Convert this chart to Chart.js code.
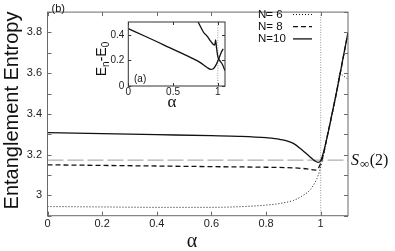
<!DOCTYPE html>
<html>
<head>
<meta charset="utf-8">
<script src="https://cdn.jsdelivr.net/npm/chart.js@4/dist/chart.umd.min.js"></script>
<style>
    html, body { margin: 0; padding: 0; background: #fff; }
    #wrap { position: relative; width: 395px; height: 251px; }
    #main { position: absolute; left: 0; top: 0; }
    #inset { position: absolute; left: 95px; top: 12px; }
</style>
</head>
<body>
<div id="wrap">
    <canvas id="main" width="395" height="251"></canvas>
    <canvas id="inset" width="135" height="100"></canvas>
</div>
<script>
// main panel (b): entanglement entropy vs alpha
var alpha10 = [0, 0.2, 0.4, 0.6, 0.7, 0.8, 0.85, 0.9, 0.93, 0.96, 0.98, 0.99, 1.0, 1.01, 1.02, 1.04, 1.06, 1.08, 1.1];
var entropy10 = [3.308, 3.303, 3.298, 3.293, 3.29, 3.283, 3.275, 3.255, 3.225, 3.19, 3.168, 3.162, 3.17, 3.21, 3.265, 3.39, 3.52, 3.66, 3.8];

var alpha8 = [0, 0.2, 0.4, 0.6, 0.8, 0.9, 0.95, 0.98, 0.99, 1.0, 1.01, 1.02, 1.04, 1.06, 1.08, 1.1];
var entropy8 = [3.15, 3.147, 3.144, 3.141, 3.138, 3.135, 3.13, 3.124, 3.13, 3.158, 3.2, 3.265, 3.39, 3.52, 3.66, 3.8];

var alpha6 = [0, 0.2, 0.4, 0.6, 0.7, 0.8, 0.85, 0.9, 0.93, 0.96, 0.98, 0.99, 1.0, 1.01, 1.02, 1.04, 1.06, 1.07, 1.08, 1.1];
var entropy6 = [2.945, 2.943, 2.941, 2.941, 2.944, 2.952, 2.96, 2.975, 2.995, 3.025, 3.065, 3.095, 3.14, 3.195, 3.26, 3.385, 3.515, 3.6, 3.59, 3.57];

var sInfinity = 3.173;
var alphaCritical = 1;

var xTicks = [0, 0.2, 0.4, 0.6, 0.8, 1];
var xTickLabels = ['0', '0.2', '0.4', '0.6', '0.8', '1'];
var yTicks = [2.9, 3.0, 3.1, 3.2, 3.3, 3.4, 3.5, 3.6, 3.7, 3.8, 3.9];
var yTickLabels = ['', '3', '', '3.2', '', '3.4', '', '3.6', '', '3.8', ''];

// inset (a): energy gaps vs alpha
var gapAlphaLow = [0, 0.2, 0.4, 0.6, 0.8, 0.88, 0.92, 0.95, 0.98, 1.0, 1.02, 1.04, 1.06];
var gapLow = [0.448, 0.385, 0.32, 0.255, 0.185, 0.145, 0.13, 0.135, 0.165, 0.195, 0.23, 0.265, 0.29];
var gapAlphaHigh = [0.78, 0.84, 0.88, 0.92, 0.95, 0.965, 0.975, 0.985, 1.0, 1.02, 1.05, 1.08];
var gapHigh = [0.5, 0.42, 0.39, 0.35, 0.325, 0.32, 0.36, 0.3, 0.23, 0.2, 0.17, 0.12];

var insetXTicks = [0, 0.5, 1];
var insetXTickLabels = ['0', '0.5', '1'];
var insetYTicks = [0, 0.2, 0.4];
var insetYTickLabels = ['0', '0.2', '0.4'];

var legendLabels = ['N= 6', 'N= 8', 'N=10'];

var SANS = '"Liberation Sans", Arial, sans-serif';
var SERIF = '"Liberation Serif", "DejaVu Serif", serif';

function points(xs, ys) {
    return xs.map(function(x, i){ return {x: x, y: ys[i]}; });
}

function fixTicks(list) {
    return function(scale){
        scale.ticks = list.map(function(v){ return {value: v}; });
    };
}

// frame with inward ticks, gnuplot style
var frameTicks = {
    id: 'frameTicks',
    afterDatasetsDraw: function(chart, args, opts){
        var ctx = chart.ctx;
        var a = chart.chartArea;
        var xs = chart.scales.x, ys = chart.scales.y;
        ctx.save();
        ctx.strokeStyle = opts.color;
        ctx.lineWidth = 1;
        ctx.strokeRect(a.left, a.top, a.right - a.left, a.bottom - a.top);
        ctx.beginPath();
        xs.ticks.forEach(function(t){
            var p = Math.round(xs.getPixelForValue(t.value)) + 0.5;
            ctx.moveTo(p, a.bottom); ctx.lineTo(p, a.bottom - opts.len);
            ctx.moveTo(p, a.top); ctx.lineTo(p, a.top + opts.len);
        });
        ys.ticks.forEach(function(t){
            var p = Math.round(ys.getPixelForValue(t.value)) + 0.5;
            ctx.moveTo(a.left, p); ctx.lineTo(a.left + opts.len, p);
            ctx.moveTo(a.right, p); ctx.lineTo(a.right - opts.len, p);
        });
        ctx.stroke();
        ctx.restore();
    }
};

var mainText = {
    id: 'mainText',
    afterDraw: function(chart){
        var ctx = chart.ctx;
        var a = chart.chartArea;
        ctx.save();
        ctx.fillStyle = '#111';

        // y title
        ctx.save();
        ctx.translate(18, 110.5);
        ctx.rotate(-Math.PI / 2);
        ctx.font = '20px ' + SANS;
        ctx.textAlign = 'center';
        ctx.textBaseline = 'alphabetic';
        ctx.fillText('Entanglement Entropy', 0, 0);
        ctx.restore();

        // x title
        ctx.font = '20px ' + SERIF;
        ctx.textAlign = 'center';
        ctx.textBaseline = 'alphabetic';
        ctx.fillText('\u03b1', 192, 246.5);

        // panel tag
        ctx.font = '11px ' + SANS;
        ctx.textAlign = 'left';
        ctx.textBaseline = 'middle';
        ctx.fillText('(b)', 51.5, 8.5);

        // legend
        var styles = [[1, 2], [5, 3], []];
        ctx.font = '11.5px ' + SANS;
        legendLabels.forEach(function(lab, i){
            var y = 14.5 + i * 12.2;
            ctx.fillText(lab, 258, y);
            ctx.beginPath();
            ctx.setLineDash(styles[i]);
            ctx.lineWidth = i === 0 ? 1 : 1.3;
            ctx.strokeStyle = '#111';
            ctx.moveTo(293, y);
            ctx.lineTo(312, y);
            ctx.stroke();
        });
        ctx.setLineDash([]);

        // S_inf(2) label
        var ly = chart.scales.y.getPixelForValue(sInfinity) + 5;
        var x = a.right + 3;
        ctx.textBaseline = 'alphabetic';
        ctx.font = 'italic 16px ' + SERIF;
        ctx.fillText('S', x, ly);
        x += ctx.measureText('S').width + 1;
        ctx.font = '13px ' + SERIF;
        ctx.fillText('\u221e', x, ly + 2.5);
        x += ctx.measureText('\u221e').width + 0.5;
        ctx.font = '16px ' + SERIF;
        ctx.fillText('(2)', x, ly);
        ctx.restore();
    }
};

var insetText = {
    id: 'insetText',
    afterDraw: function(chart){
        var ctx = chart.ctx;
        ctx.save();
        ctx.fillStyle = '#111';
        ctx.textBaseline = 'alphabetic';

        // y title E_n - E_0, rotated
        ctx.save();
        ctx.translate(106 - 95, 59 - 12);
        ctx.rotate(-Math.PI / 2);
        var parts = [['E', 14, 0], ['n', 10, 3], ['-E', 14, 0], ['0', 10, 3]];
        var total = 0;
        parts.forEach(function(p){ ctx.font = p[1] + 'px ' + SANS; total += ctx.measureText(p[0]).width; });
        var x = -total / 2;
        parts.forEach(function(p){
            ctx.font = p[1] + 'px ' + SANS;
            ctx.textAlign = 'left';
            ctx.fillText(p[0], x, p[2]);
            x += ctx.measureText(p[0]).width;
        });
        ctx.restore();

        // x title
        ctx.font = '17px ' + SERIF;
        ctx.textAlign = 'center';
        ctx.fillText('\u03b1', 172 - 95, 107 - 12);

        // panel tag
        ctx.font = '10px ' + SANS;
        ctx.textAlign = 'left';
        ctx.textBaseline = 'middle';
        ctx.fillText('(a)', 134 - 95, 79 - 12);
        ctx.restore();
    }
};

new Chart(document.getElementById('main'), {
    type: 'line',
    data: {
        datasets: [{
            label: 'N=6',
            data: points(alpha6, entropy6),
            borderColor: '#111',
            borderWidth: 1,
            borderDash: [1, 2]
        }, {
            label: 'N=8',
            data: points(alpha8, entropy8),
            borderColor: '#111',
            borderWidth: 1.3,
            borderDash: [5, 3]
        }, {
            label: 'N=10',
            data: points(alpha10, entropy10),
            borderColor: '#111',
            borderWidth: 1.3
        }, {
            label: 'S_inf(2)',
            data: [{x: 0, y: sInfinity}, {x: 1.1, y: sInfinity}],
            borderColor: '#9a9a9a',
            borderWidth: 1,
            borderDash: [16, 4],
            tension: 0
        }, {
            label: 'alpha=1',
            data: [{x: alphaCritical, y: 2.9}, {x: alphaCritical, y: 3.9}],
            borderColor: '#999',
            borderWidth: 1,
            borderDash: [1, 1.5],
            tension: 0
        }]
    },
    options: {
        responsive: false,
        animation: false,
        devicePixelRatio: 1,
        layout: { padding: { top: 1, right: 47, left: 0, bottom: 0 } },
        elements: {
            point: { radius: 0 },
            line: { cubicInterpolationMode: 'monotone', fill: false }
        },
        plugins: {
            legend: { display: false },
            tooltip: { enabled: false },
            frameTicks: { color: '#6a6a6a', len: 4 }
        },
        scales: {
            x: {
                type: 'linear',
                min: 0,
                max: 1.1,
                afterBuildTicks: fixTicks(xTicks),
                afterFit: function(s){ s.height = 35.3; },
                grid: { display: false, drawTicks: false },
                border: { display: false },
                ticks: {
                    autoSkip: false,
                    maxRotation: 0,
                    padding: 2,
                    color: '#222',
                    font: { family: SANS, size: 11 },
                    callback: function(v, i){ return xTickLabels[i]; }
                }
            },
            y: {
                type: 'linear',
                min: 2.9,
                max: 3.9,
                afterBuildTicks: fixTicks(yTicks),
                afterFit: function(s){ s.width = 47.5; },
                grid: { display: false, drawTicks: false },
                border: { display: false },
                ticks: {
                    autoSkip: false,
                    padding: 5.5,
                    color: '#222',
                    font: { family: SANS, size: 11 },
                    callback: function(v, i){ return yTickLabels[i]; }
                }
            }
        }
    },
    plugins: [frameTicks, mainText]
});

new Chart(document.getElementById('inset'), {
    type: 'line',
    data: {
        datasets: [{
            label: 'lower gap',
            data: points(gapAlphaLow, gapLow),
            borderColor: '#111',
            borderWidth: 1.3
        }, {
            label: 'upper gap',
            data: points(gapAlphaHigh, gapHigh),
            borderColor: '#111',
            borderWidth: 1.3
        }, {
            label: 'alpha=1',
            data: [{x: alphaCritical, y: 0}, {x: alphaCritical, y: 0.5}],
            borderColor: '#999',
            borderWidth: 1,
            borderDash: [1, 1.5],
            tension: 0
        }]
    },
    options: {
        responsive: false,
        animation: false,
        devicePixelRatio: 1,
        layout: { padding: { top: 3, right: 5, left: 0, bottom: 0 } },
        elements: {
            point: { radius: 0 },
            line: { cubicInterpolationMode: 'monotone', fill: false }
        },
        plugins: {
            legend: { display: false },
            tooltip: { enabled: false },
            frameTicks: { color: '#333', len: 3 }
        },
        scales: {
            x: {
                type: 'linear',
                min: 0,
                max: 1.08,
                afterBuildTicks: fixTicks(insetXTicks),
                afterFit: function(s){ s.height = 26; },
                grid: { display: false, drawTicks: false },
                border: { display: false },
                ticks: {
                    autoSkip: false,
                    maxRotation: 0,
                    padding: 0.5,
                    color: '#222',
                    font: { family: SANS, size: 10 },
                    callback: function(v, i){ return insetXTickLabels[i]; }
                }
            },
            y: {
                type: 'linear',
                min: 0,
                max: 0.5,
                afterBuildTicks: fixTicks(insetYTicks),
                afterFit: function(s){ s.width = 33.3; },
                grid: { display: false, drawTicks: false },
                border: { display: false },
                ticks: {
                    autoSkip: false,
                    padding: 4,
                    color: '#222',
                    font: { family: SANS, size: 10 },
                    callback: function(v, i){ return insetYTickLabels[i]; }
                }
            }
        }
    },
    plugins: [frameTicks, insetText]
});
</script>
</body>
</html>
